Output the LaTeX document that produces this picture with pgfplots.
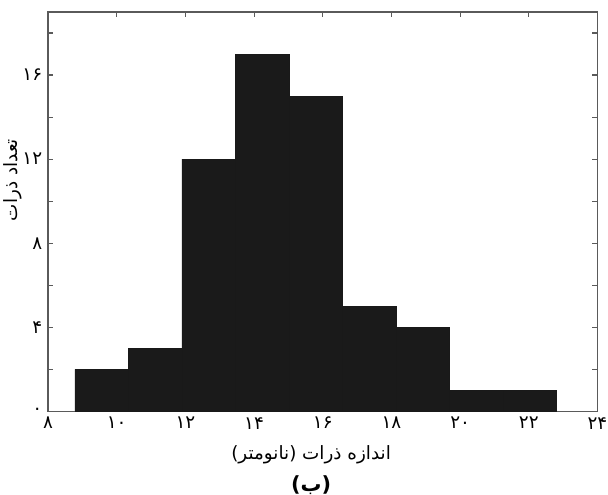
\documentclass[border=0pt]{standalone}
\usepackage{pgfplots}
\pgfplotsset{compat=1.18}
\usepackage{fontspec}
\newfontfamily\arabicfont[Script=Arabic]{DejaVu Sans}
\TeXXeTstate=1
\definecolor{barfill}{HTML}{1A1A1A}
\definecolor{axgray}{HTML}{5A5A5A}
\begin{document}
\begin{tikzpicture}
\begin{axis}[
  scale only axis,
  width=329.4pt, height=239.4pt,
  xmin=8, xmax=24, ymin=0, ymax=19,
  axis line style={axgray, line width=0.7pt},
  tick style={axgray, line width=0.7pt},
  major tick length=3pt,
  tick align=inside,
  xtick={8,10,...,24},
  xticklabels={۸,۱۰,۱۲,۱۴,۱۶,۱۸,۲۰,۲۲,۲۴},
  ytick={0,2,...,18},
  yticklabels={۰,,۴,,۸,,۱۲,,۱۶,},
  ticklabel style={font=\arabicfont\fontsize{11}{13}\selectfont},
  xlabel={\arabicfont\beginR اندازه ذرات (نانومتر)\endR},
  label style={font=\fontsize{11}{13}\selectfont},
  xlabel style={yshift=-3pt, xshift=-7pt},
]
\addplot[ybar interval, fill=barfill, draw=black!90, line width=0.3pt]
  coordinates {(8.78,2) (10.34,3) (11.90,12) (13.46,17) (15.02,15)
               (16.57,5) (18.13,4) (19.69,1) (21.25,1) (22.81,1)};
\end{axis}
\node[rotate=90, inner sep=0pt, font=\arabicfont\fontsize{11}{13}\selectfont]
  at ([xshift=-21pt, yshift=19pt]current axis.west) {\beginR تعداد ذرات\endR};
\node[inner sep=0pt, font=\arabicfont\bfseries\fontsize{12.5}{14}\selectfont]
  at ([xshift=-7pt, yshift=-44.5pt]current axis.south) {\beginR(ب)\endR};
\pgfresetboundingbox
\path ([shift={(-28.8pt,-50pt)}]current axis.south west) rectangle ([shift={(6.3pt,7.2pt)}]current axis.north east);
\end{tikzpicture}
\end{document}
